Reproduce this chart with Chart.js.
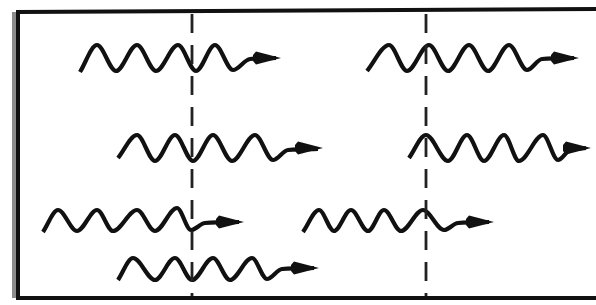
<!DOCTYPE html>
<html>
<head>
<meta charset="utf-8">
<script src="https://cdn.jsdelivr.net/npm/chart.js@4.4.0/dist/chart.umd.min.js"></script>
<style>
	html, body { margin: 0; padding: 0; background: #fff; }
	canvas { display: block; }
</style>
</head>
<body>
<canvas id="waves" width="596" height="305"></canvas>
<script>
// Wave crests/troughs (x, y in pixels of the original figure)
const topLeftX = [80, 97, 116, 137, 156, 178, 196, 215, 233, 250, 276];
const topLeftY = [72, 45, 71, 45, 71, 45, 71, 45, 70, 59, 58];

const topRightX = [367, 389, 407, 429, 448, 469, 488, 509, 527, 542, 574];
const topRightY = [71, 45, 71, 45, 71, 45, 71, 45, 70, 59, 58];

const midLeftX = [118, 137, 155, 175, 193, 213, 232, 255, 273, 288, 318];
const midLeftY = [158, 135, 161, 135, 161, 135, 161, 135, 160, 150, 149];

const midRightX = [409, 426, 448, 467, 484, 504, 519, 543, 558, 570, 586];
const midRightY = [158, 135, 161, 135, 161, 135, 161, 135, 160, 150, 148];

const lowLeftX = [43, 58, 77, 97, 113, 137, 155, 177, 191, 205, 239];
const lowLeftY = [232, 210, 231, 210, 231, 210, 231, 208, 230, 223, 222];

const lowRightX = [303, 319, 334, 351, 368, 384, 401, 423, 444, 458, 489];
const lowRightY = [232, 210, 231, 210, 231, 210, 231, 210, 230, 223, 222];

const bottomX = [118, 133, 155, 175, 192, 213, 230, 252, 267, 282, 314];
const bottomY = [280, 258, 280, 258, 280, 258, 280, 258, 279, 269, 268];

// arrow tips
const tipX = [281, 579, 323, 591, 244, 494, 319];
const tipY = [58, 58, 148, 148, 222, 222, 268];

// dashed vertical guides
const guideX = [192, 426];
const guideTop = 14;
const guideBottom = 297;

// frame: open on the right side, as in the scan
const frameX = [596, 18, 18, 596];
const frameY = [9, 12, 298, 298];
const shadowX = [14, 14];
const shadowY = [12, 298];

function toPoints(xs, ys) {
	return xs.map((x, i) => ({ x: x, y: ys[i] }));
}

// Arrow head image, tip at the centre of the canvas
function makeHead() {
	const c = document.createElement("canvas");
	c.width = 66;
	c.height = 16;
	const g = c.getContext("2d");
	g.fillStyle = "#111";
	g.beginPath();
	g.moveTo(33, 8);
	g.lineTo(8, 1.5);
	g.lineTo(5, 5);
	g.lineTo(5, 11);
	g.lineTo(8, 14.5);
	g.closePath();
	g.fill();
	return c;
}

const waveStyle = {
	showLine: true,
	borderColor: "#111",
	borderWidth: 4.2,
	pointRadius: 0,
	cubicInterpolationMode: "monotone",
	fill: false,
};

const waves = [
	[topLeftX, topLeftY],
	[topRightX, topRightY],
	[midLeftX, midLeftY],
	[midRightX, midRightY],
	[lowLeftX, lowLeftY],
	[lowRightX, lowRightY],
	[bottomX, bottomY],
];

const datasets = [];

// grey scan shadow left of the frame
datasets.push({
	data: toPoints(shadowX, shadowY),
	showLine: true,
	borderColor: "#8c8c8c",
	borderWidth: 4,
	pointRadius: 0,
});

// frame
datasets.push({
	data: toPoints(frameX, frameY),
	showLine: true,
	borderColor: "#111",
	borderWidth: 4,
	pointRadius: 0,
	tension: 0,
});

// dashed guides
guideX.forEach((gx) => {
	datasets.push({
		data: [{ x: gx, y: guideTop }, { x: gx, y: guideBottom }],
		showLine: true,
		borderColor: "#222",
		borderWidth: 2.8,
		borderDash: [19, 12],
		pointRadius: 0,
	});
});

waves.forEach((w) => {
	datasets.push(Object.assign({ data: toPoints(w[0], w[1]) }, waveStyle));
});

// arrow heads
datasets.push({
	data: toPoints(tipX, tipY),
	showLine: false,
	pointStyle: makeHead(),
	pointRadius: 10,
});

const ctx = document.getElementById("waves").getContext("2d");
const chart = new Chart(ctx, {
	type: "scatter",
	data: { datasets: datasets },
	options: {
		responsive: false,
		animation: false,
		layout: { padding: 0, autoPadding: false },
		scales: {
			x: { type: "linear", min: 0, max: 596, display: false },
			y: { type: "linear", min: 0, max: 305, reverse: true, display: false },
		},
		plugins: {
			legend: { display: false },
			tooltip: { enabled: false },
		},
	},
});
</script>
</body>
</html>
